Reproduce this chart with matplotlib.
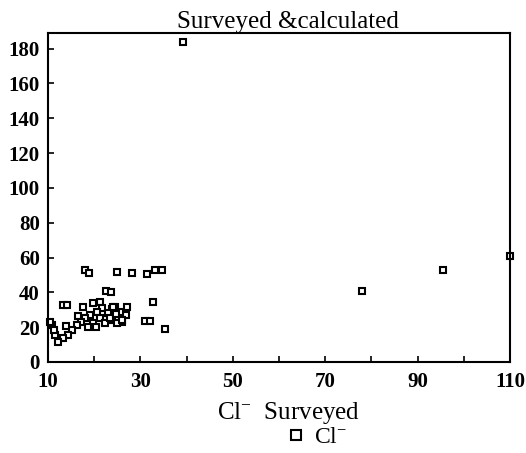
import matplotlib
matplotlib.use("Agg")
import matplotlib.pyplot as plt

plt.rcParams['font.family'] = ['Liberation Serif', 'DejaVu Serif']
plt.rcParams['mathtext.default'] = 'regular'

# Cl- surveyed (x) vs calculated (y)
cl_surveyed = [39.2, 78.0, 95.5, 110.0,
               18.0, 18.9, 24.9, 28.2, 31.4, 33.2, 34.7,
               22.6, 23.6, 32.7, 13.2, 14.1, 35.3, 31.0, 32.1, 27.1, 26.9, 26.0, 24.5, 23.9,
               21.3, 19.7, 17.6, 21.7, 24.1, 20.6, 23.0, 19.1, 25.6, 18.0, 21.3, 23.9,
               19.7, 22.3, 24.9, 26.0, 16.5, 17.1, 16.3, 15.2, 14.3, 13.9, 13.2, 12.2,
               11.5, 10.9, 10.4, 11.3, 18.7, 20.4, 23.4, 24.7]
cl_calculated = [184, 40.8, 52.9, 60.9,
                 52.9, 51.1, 51.7, 51.1, 50.6, 52.9, 52.9,
                 40.8, 40.2, 34.5, 32.8, 32.8, 19.0, 23.6, 23.6, 31.6, 27.0, 23.0, 31.6, 30.5,
                 34.5, 33.9, 31.6, 31.0, 31.6, 28.7, 28.2, 27.0, 28.7, 25.3, 25.3, 24.1,
                 22.4, 22.4, 22.4, 24.1, 26.4, 23.0, 21.3, 18.4, 15.5, 20.7, 13.8, 11.5,
                 15.5, 21.3, 23.0, 18.4, 20.1, 20.1, 25.3, 27.6]

x_ticks = [10, 30, 50, 70, 90, 110]
x_minor = [20, 40, 60, 80, 100]
y_ticks = [0, 20, 40, 60, 80, 100, 120, 140, 160, 180]

fig = plt.figure(figsize=(5.26, 4.53), dpi=100)
ax = fig.add_axes([0.0913, 0.2009, 0.8783, 0.7263])

ax.plot(cl_surveyed, cl_calculated, linestyle='none', marker='s', markersize=5,
        markerfacecolor='white', markeredgecolor='black', markeredgewidth=1.5,
        label='Cl$^{-}$', clip_on=False)

ax.set_xlim(10, 110)
ax.set_ylim(0, 189)
ax.set_xticks(x_ticks)
ax.set_xticks(x_minor, minor=True)
ax.set_yticks(y_ticks)
ax.tick_params(axis='both', direction='in', length=4, width=1.2, labelsize=15)
ax.tick_params(axis='x', which='minor', direction='in', length=4, width=1.2)
ax.tick_params(axis='x', pad=7)
ax.tick_params(axis='y', pad=6)
for lbl in ax.get_xticklabels() + ax.get_yticklabels():
    lbl.set_fontweight('bold')
for sp in ax.spines.values():
    sp.set_linewidth(1.5)

ax.set_title('Surveyed &calculated', fontsize=18, pad=2, x=0.52)
ax.set_xlabel('Cl$^{-}$  Surveyed', fontsize=18, labelpad=6, x=0.52)

fig.legend(*ax.get_legend_handles_labels(), loc='center', bbox_to_anchor=(0.6, 0.035),
           frameon=False, fontsize=17, handletextpad=0.3, handlelength=1.0, borderpad=0,
           markerscale=1.5)

fig.savefig('out.png', dpi=100)
